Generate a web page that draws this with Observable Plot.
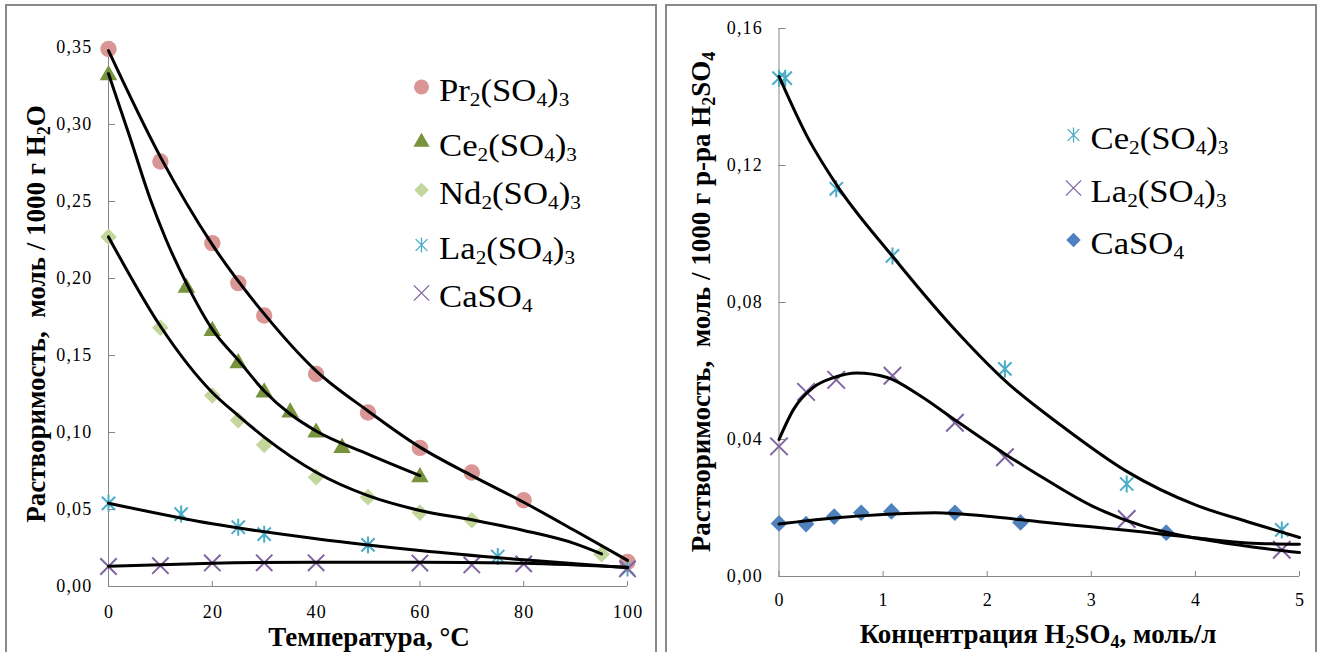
<!DOCTYPE html>
<html><head><meta charset="utf-8">
<script src="https://cdn.jsdelivr.net/npm/d3@7"></script>
<script src="https://cdn.jsdelivr.net/npm/@observablehq/plot@0.6"></script>
<style>
body{margin:0;background:#fff;width:1323px;height:652px;overflow:hidden;position:relative;font-family:"Liberation Serif","Times New Roman",serif;}
svg, svg text, svg tspan{font-family:"Liberation Serif","Times New Roman",serif !important;}
.tick-lbl text{letter-spacing:1.2px;}
.panel{position:absolute;border:2px solid #898989;box-sizing:border-box;}
.chart{position:absolute;top:0;}
#overlay{position:absolute;left:0;top:0;pointer-events:none;}
</style></head><body>
<div class="panel" style="left:5px;top:4px;width:652px;height:700px"></div>
<div class="panel" style="left:665px;top:4px;width:652px;height:700px"></div>
<div id="left" class="chart" style="left:0px"></div>
<div id="right" class="chart" style="left:665px"></div>
<script>
// ---------- LEFT CHART DATA (solubility vs temperature) ----------
const xTicksL = [0, 20, 40, 60, 80, 100];
const yTicksL = [0, 0.05, 0.10, 0.15, 0.20, 0.25, 0.30, 0.35];

const tempPr = [0, 10, 20, 25, 30, 40, 50, 60, 70, 80, 100];
const solPr  = [0.349, 0.276, 0.223, 0.197, 0.176, 0.138, 0.113, 0.090, 0.074, 0.056, 0.016];
const tempCe = [0, 15, 20, 25, 30, 35, 40, 45, 60];
const solCe  = [0.332, 0.194, 0.166, 0.145, 0.126, 0.113, 0.100, 0.090, 0.071];
const tempNd = [0, 10, 20, 25, 30, 40, 50, 60, 70, 95];
const solNd  = [0.227, 0.168, 0.124, 0.108, 0.092, 0.071, 0.058, 0.048, 0.043, 0.021];
const tempLa = [0, 14, 25, 30, 50, 75, 100];
const solLa  = [0.054, 0.047, 0.0385, 0.034, 0.027, 0.0195, 0.012];
const tempCa = [0, 10, 20, 30, 40, 60, 70, 80, 100];
const solCa  = [0.013, 0.0135, 0.0153, 0.0154, 0.0154, 0.0152, 0.014, 0.0147, 0.0115];

// trend lines
const trPrT = [0, 10, 20, 30, 40, 50, 60, 70, 80, 90, 100];
const trPrV = [0.348, 0.279, 0.222, 0.177, 0.140, 0.114, 0.0905, 0.072, 0.0547, 0.036, 0.017];
const trCeT = [0, 4, 8, 11, 15, 20, 25, 30, 35, 40, 50, 60];
const trCeV = [0.333, 0.293, 0.252, 0.226, 0.197, 0.167, 0.147, 0.127, 0.112, 0.101, 0.086, 0.072];
const trNdT = [0, 10, 20, 25, 30, 40, 50, 60, 70, 80, 90, 95];
const trNdV = [0.227, 0.169, 0.126, 0.111, 0.097, 0.0742, 0.059, 0.0494, 0.0433, 0.0364, 0.0277, 0.0212];
const trLaT = [0, 20, 40, 60, 80, 100];
const trLaV = [0.0541, 0.0407, 0.031, 0.0234, 0.0173, 0.0121];
const trCaT = [0, 20, 40, 60, 80, 100];
const trCaV = [0.0132, 0.0151, 0.0158, 0.0158, 0.0151, 0.0125];

// ---------- RIGHT CHART DATA (solubility vs H2SO4 concentration) ----------
const xTicksR = [0, 1, 2, 3, 4, 5];
const yTicksR = [0, 0.04, 0.08, 0.12, 0.16];

const concCe = [0, 0.06, 0.55, 1.09, 2.17, 3.34, 4.83];
const solCeR = [0.1455, 0.1455, 0.1132, 0.0936, 0.0606, 0.027, 0.0136];
const concLa = [0, 0.26, 0.55, 1.09, 1.69, 2.17, 3.34, 4.83];
const solLaR = [0.038, 0.0539, 0.0574, 0.0586, 0.0449, 0.0348, 0.0168, 0.0078];
const concCa = [0, 0.26, 0.53, 0.79, 1.08, 1.69, 2.32, 3.72];
const solCaR = [0.0155, 0.0153, 0.0175, 0.0186, 0.019, 0.0186, 0.0158, 0.0128];

const trCeRT = [0, 0.27, 0.55, 1.09, 1.68, 2.17, 2.75, 3.34, 4, 4.5, 5];
const trCeRV = [0.146, 0.1285, 0.1145, 0.0935, 0.0724, 0.0572, 0.0432, 0.0307, 0.0209, 0.016, 0.0114];
const trLaRT = [0, 0.14, 0.33, 0.53, 0.75, 1.04, 1.36, 1.69, 2.17, 2.5, 3, 3.5, 4, 4.5, 5];
const trLaRV = [0.040, 0.0488, 0.0552, 0.0581, 0.0594, 0.0581, 0.0527, 0.0457, 0.0358, 0.0295, 0.0207, 0.0147, 0.0112, 0.0088, 0.0070];
const trCaRT = [0, 0.5, 1, 1.5, 2, 2.5, 3, 3.5, 4, 4.5, 5];
const trCaRV = [0.0153, 0.017, 0.0181, 0.0186, 0.0176, 0.016, 0.0145, 0.013, 0.0113, 0.0098, 0.0094];

// ---------- labels ----------
const legendL = ["Pr_2(SO_4)_3", "Ce_2(SO_4)_3", "Nd_2(SO_4)_3", "La_2(SO_4)_3", "CaSO_4"];
const legendR = ["Ce_2(SO_4)_3", "La_2(SO_4)_3", "CaSO_4"];
const yTitleL = "Растворимость,  моль / 1000 г H_2O";
const xTitleL = "Температура, °С";
const yTitleR = "Растворимость,  моль / 1000 г р-ра H_2SO_4";
const xTitleR = "Концентрация H_2SO_4, моль/л";

// ---------- styles ----------
const C = {pr: "#D99694", ce: "#77933C", nd: "#C3D69B", la: "#4BACC6", ca: "#8064A2", caR: "#4F81BD", axis: "#868686"};
const star = {draw(ctx, size) {
  const r = Math.sqrt(size / Math.PI), d = r * 0.78;
  ctx.moveTo(0, -r); ctx.lineTo(0, r);
  ctx.moveTo(-d, -d); ctx.lineTo(d, d);
  ctx.moveTo(d, -d); ctx.lineTo(-d, d);
}};
const comma = f => d => d3.format(f)(d).replace(".", ",");
const pts = (xs, ys) => xs.map((x, i) => ({x, y: ys[i]}));
const FONT = "'Liberation Serif', 'Times New Roman', serif";

function axes(xT, yT, yFmt, padX) {
  return [
    Plot.ruleX([xT[0]], {stroke: C.axis}),
    Plot.ruleY([yT[0]], {stroke: C.axis}),
    Plot.axisY(yT, {tickSize: 7, dx: 7, tickFormat: () => "", stroke: C.axis, label: null}),
    Plot.axisX(xT, {tickSize: 5, dy: -5, tickFormat: () => "", stroke: C.axis, label: null}),
    Plot.axisY(yT, {tickSize: 0, tickPadding: 16, tickFormat: yFmt, label: null, fill: "#000", fontFamily: FONT, className: "tick-lbl"}),
    Plot.axisX(xT, {tickSize: 0, tickPadding: padX, dx: 0.6, tickFormat: d => String(d), label: null, fill: "#000", fontFamily: FONT, className: "tick-lbl"})
  ];
}
const lineOpts = {x: "x", y: "y", curve: "monotone-x", stroke: "#000", strokeWidth: 3};

const left = Plot.plot({
  width: 660, height: 652,
  marginLeft: 108, marginRight: 33, marginTop: 47, marginBottom: 66,
  x: {domain: d3.extent(xTicksL)}, y: {domain: d3.extent(yTicksL)},
  style: {fontFamily: FONT, fontSize: "18px", color: "#000", background: "transparent", overflow: "visible"},
  marks: [
    ...axes(xTicksL, yTicksL, comma(".2f"), 19),
    Plot.dot(pts(tempPr, solPr), {x: "x", y: "y", symbol: "circle", r: 8.2, fill: C.pr}),
    Plot.dot(pts(tempCe, solCe), {x: "x", y: "y", symbol: "triangle", r: 6.5, fill: C.ce}),
    Plot.dot(pts(tempNd, solNd), {x: "x", y: "y", symbol: "diamond2", r: 7.5, fill: C.nd}),
    Plot.dot(pts(tempLa, solLa), {x: "x", y: "y", symbol: star, r: 8.5, fill: "none", stroke: C.la, strokeWidth: 2}),
    Plot.dot(pts(tempCa, solCa), {x: "x", y: "y", symbol: "times", r: 7.5, fill: "none", stroke: C.ca, strokeWidth: 2}),
    Plot.line(pts(trPrT, trPrV), lineOpts),
    Plot.line(pts(trCeT, trCeV), lineOpts),
    Plot.line(pts(trNdT, trNdV), lineOpts),
    Plot.line(pts(trLaT, trLaV), lineOpts),
    Plot.line(pts(trCaT, trCaV), lineOpts)
  ]
});
document.getElementById("left").append(left);

const right = Plot.plot({
  width: 658, height: 652,
  marginLeft: 113.5, marginRight: 24, marginTop: 28, marginBottom: 76,
  x: {domain: d3.extent(xTicksR)}, y: {domain: d3.extent(yTicksR)},
  style: {fontFamily: FONT, fontSize: "18px", color: "#000", background: "transparent", overflow: "visible"},
  marks: [
    ...axes(xTicksR, yTicksR, comma(".2f"), 17),
    Plot.dot(pts(concCe, solCeR), {x: "x", y: "y", symbol: star, r: 8.5, fill: "none", stroke: C.la, strokeWidth: 2}),
    Plot.dot(pts(concLa, solLaR), {x: "x", y: "y", symbol: "times", r: 8, fill: "none", stroke: C.ca, strokeWidth: 2}),
    Plot.dot(pts(concCa, solCaR), {x: "x", y: "y", symbol: "diamond2", r: 7.5, fill: C.caR}),
    Plot.line(pts(trCeRT, trCeRV), lineOpts),
    Plot.line(pts(trLaRT, trLaRV), lineOpts),
    Plot.line(pts(trCaRT, trCaRV), lineOpts)
  ]
});
document.getElementById("right").append(right);

// ---------- overlay: legends and axis titles (text with subscripts) ----------
const svg = d3.select("body").append("svg").attr("id", "overlay")
  .attr("width", 1323).attr("height", 652)
  .style("font-family", FONT);

function richText(g, str, size, subSize, shift) {
  const t = g.append("text").attr("font-size", size).attr("font-family", FONT);
  const parts = str.split(/(_\d)/).filter(s => s.length);
  let down = false;
  for (const p of parts) {
    if (p[0] === "_") {
      t.append("tspan").attr("font-size", subSize).attr("dy", down ? 0 : shift).text(p.slice(1));
      down = true;
    } else {
      t.append("tspan").attr("dy", down ? -shift : 0).text(p);
      down = false;
    }
  }
  return t;
}
const sym = (type, r) => d3.symbol().type(type).size(Math.PI * r * r)();

function legend(labels, styles, mx, tx, ys) {
  labels.forEach((lab, i) => {
    const s = styles[i];
    svg.append("path").attr("d", sym(s.type, s.r))
      .attr("transform", `translate(${mx},${ys[i]})`)
      .attr("fill", s.fill || "none").attr("stroke", s.stroke || "none").attr("stroke-width", 1.3);
    richText(svg.append("g").attr("transform", `translate(${tx},${ys[i] + 14}) scale(1.12,1)`), lab, 31, 19, 5);
  });
}
legend(legendL, [
  {type: d3.symbolCircle, r: 7.5, fill: C.pr},
  {type: d3.symbolTriangle, r: 6, fill: C.ce},
  {type: d3.symbolDiamond2, r: 6.5, fill: C.nd},
  {type: star, r: 7.5, stroke: C.la},
  {type: d3.symbolTimes, r: 7, stroke: C.ca}
], 421.5, 439, [87, 142, 190, 245, 293]);
legend(legendR, [
  {type: star, r: 7.5, stroke: C.la},
  {type: d3.symbolTimes, r: 7, stroke: C.ca},
  {type: d3.symbolDiamond2, r: 6.5, fill: C.caR}
], 1073.5, 1090.5, [135, 188, 240]);

function title(str, x, y, rot) {
  const g = svg.append("g").attr("transform", `translate(${x},${y}) rotate(${rot})`);
  richText(g, str, 27, 18, 5).attr("font-weight", "bold").attr("text-anchor", "middle").style("white-space", "pre");
}
title(yTitleL, 44.5, 314, -90);
title(xTitleL, 369, 646, 0);
title(yTitleR, 709.5, 302, -90);
title(xTitleR, 1038, 643, 0);
</script>
</body></html>
